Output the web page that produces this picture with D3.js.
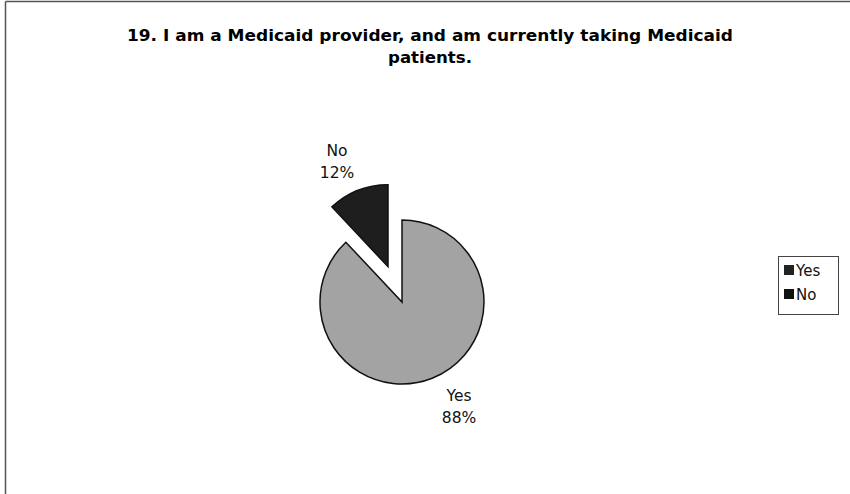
<!DOCTYPE html>
<html><head><meta charset="utf-8">
<script src="https://cdn.jsdelivr.net/npm/d3@7"></script>
<style>body{margin:0;background:#fff}svg{display:block}</style>
</head><body>
<script>
const categories = ["Yes", "No"];
const values = [88, 12];
const percentLabels = ["88%", "12%"];
const colors = ["#a3a3a3", "#1e1e1e"];
const legendColors = ["#222222", "#111111"];
const titleLines = ["19.  I am a Medicaid provider, and am currently taking Medicaid", "patients."];

const W = 850, H = 494;
const svg = d3.select("body").append("svg").attr("width", W).attr("height", H);

// frame (top and left edges visible)
svg.append("line").attr("x1", 5.5).attr("y1", 1.5).attr("x2", W).attr("y2", 1.5).attr("stroke", "#555").attr("stroke-width", 1.5);
svg.append("line").attr("x1", 5.5).attr("y1", 1.5).attr("x2", 5.5).attr("y2", H).attr("stroke", "#555").attr("stroke-width", 1.5);

// title
svg.append("g").selectAll("text").data(titleLines).join("text")
  .attr("x", 430).attr("y", (d, i) => 41 + i * 22)
  .attr("text-anchor", "middle")
  .attr("font-family", "'DejaVu Sans', Verdana, sans-serif")
  .attr("font-weight", "bold").attr("font-size", 15.5)
  .attr("textLength", (d, i) => i === 0 ? 606 : 84)
  .attr("lengthAdjust", "spacingAndGlyphs")
  .text(d => d);

const cx = 402, cy = 302, r = 82, explode = 38;
const data = categories.map((c, i) => ({ cat: c, value: values[i], label: percentLabels[i], i }));
const pie = d3.pie().value(d => d.value).sort(null);
const arcs = pie(data);
const arc = d3.arc().innerRadius(0).outerRadius(r);

const g = svg.append("g").attr("transform", `translate(${cx},${cy})`);
g.selectAll("path").data(arcs).join("path")
  .attr("d", arc)
  .attr("fill", d => colors[d.data.i])
  .attr("stroke", "#111").attr("stroke-width", 1.5)
  .attr("transform", d => {
    if (d.data.cat !== "No") return null;
    const m = (d.startAngle + d.endAngle) / 2;
    return `translate(${Math.sin(m) * explode},${-Math.cos(m) * explode})`;
  });

// labels
const labelPos = { "Yes": [459, 401], "No": [337, 156] };
arcs.forEach(d => {
  const [lx, ly] = labelPos[d.data.cat];
  const t = svg.append("text").attr("text-anchor", "middle")
    .attr("font-family", "'DejaVu Sans', Verdana, sans-serif").attr("font-size", 15.5).attr("fill", "#111");
  t.append("tspan").attr("x", lx).attr("y", ly).text(d.data.cat);
  t.append("tspan").attr("x", lx).attr("y", ly + 22).text(d.data.label);
});

// legend
const lg = svg.append("g");
lg.append("rect").attr("x", 778.5).attr("y", 256.5).attr("width", 60).attr("height", 58)
  .attr("fill", "#fff").attr("stroke", "#444").attr("stroke-width", 1);
const items = lg.selectAll("g.item").data(categories).join("g").attr("class", "item")
  .attr("transform", (d, i) => `translate(784,${265 + i * 24})`);
items.append("rect").attr("width", 10).attr("height", 10).attr("fill", (d, i) => legendColors[i]);
items.append("text").attr("x", 12).attr("y", 10.5)
  .attr("font-family", "'DejaVu Sans', Verdana, sans-serif").attr("font-size", 15).attr("fill", "#111")
  .text(d => d);
</script>
</body></html>
